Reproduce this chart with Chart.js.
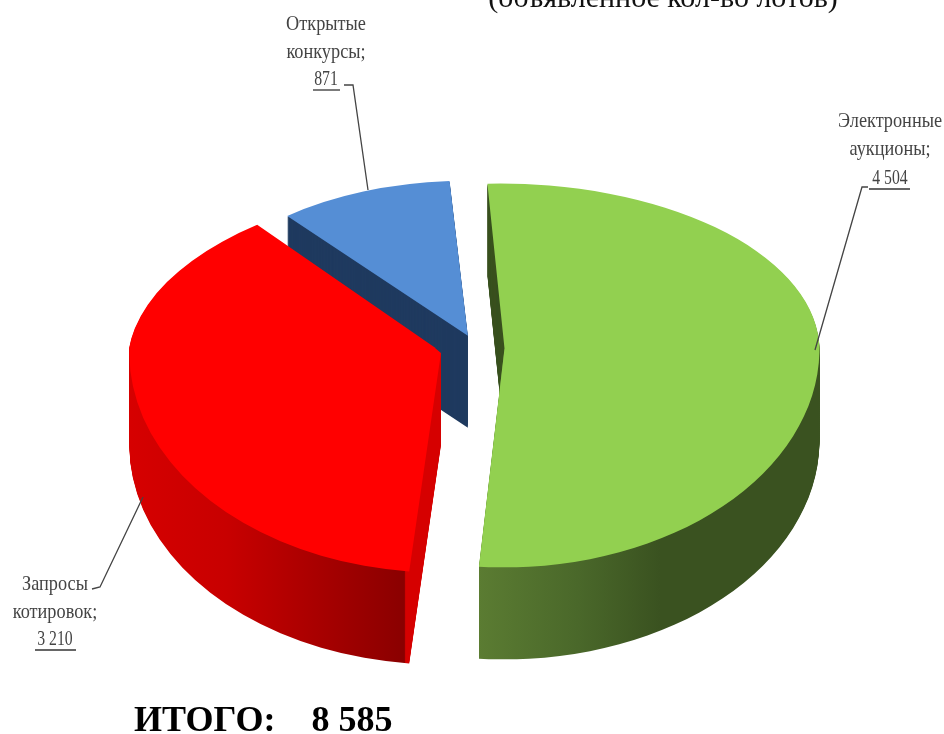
<!DOCTYPE html>
<html><head><meta charset="utf-8">
<style>html,body{margin:0;padding:0;background:#fff;overflow:hidden}
#w{width:944px;height:734px;position:relative}
canvas{filter:blur(0.7px)}</style>
<script src="https://cdn.jsdelivr.net/npm/chart.js@4/dist/chart.umd.min.js"></script>
</head><body><div id="w"><canvas id="c" width="944" height="734"></canvas></div>
<script>
const categories=['Электронные аукционы','Запросы котировок','Открытые конкурсы'];
const values=[4504,3210,871];
const valueLabels=['4 504','3 210','871'];
const labelLines=[['Электронные','аукционы;'],['Запросы','котировок;'],['Открытые','конкурсы;']];
const totalLabel='ИТОГО:    8 585';
const subtitle='(объявленное кол-во лотов)';
const topColors=['#92d050','#ff0000','#558ed5'];
const sliceScale=[1,1.065,0.96];
const sliceScaleY=[1,1.08,1];
const sliceShear=[-0.024,0.14,0];
const sliceShift=[[0,0],[0,-2],[6,3]];
const drawOrder=[2,1,0];

const CX=473,CY=348,RY_TOP=0.523,RY_BOT=0.695,DEPTH=92;

function wallFill(ctx,i,half,arc){
  const off=arc.options.offset/4*Math.cos((arc.startAngle+arc.endAngle)/2);
  const s=sliceScale[i];
  const lx=sx=>arc.x+(sx-CX)/s-off;
  if(i===2) return '#1f3a5f';
  if(i===0){
    if(half==='top') return '#3a5220';
    const g=ctx.createLinearGradient(lx(478),0,lx(660),0);
    g.addColorStop(0,'#5b7c32');g.addColorStop(.55,'#4a682a');g.addColorStop(1,'#3a5220');
    return g;
  }
  const g=ctx.createLinearGradient(lx(130),0,lx(450),0);
  const p=(405-130)/320;
  g.addColorStop(0,'#d60000');g.addColorStop(.3,'#c80000');
  g.addColorStop(p-0.002,'#8a0000');g.addColorStop(p+0.002,'#d60000');g.addColorStop(1,'#d60000');
  return g;
}
function paint(ctx,arc,i,dy,isWall,W,H){
  const saved=arc.options;
  const s=sliceScale[i];
  [['top',RY_TOP],['bot',RY_BOT]].forEach(([half,ky])=>{
    ctx.save();
    ctx.beginPath();
    if(half==='top') ctx.rect(0,0,W,CY+dy); else ctx.rect(0,CY+dy,W,H-CY-dy);
    ctx.clip();
    ctx.translate(CX+sliceShift[i][0],CY+dy+sliceShift[i][1]);
    if(half==='top') ctx.transform(1,0,-sliceShear[i],1,0,0);
    ctx.scale(s,ky*sliceScaleY[i]);
    ctx.translate(-arc.x,-arc.y);
    const fill=isWall?wallFill(ctx,i,half,{options:saved,startAngle:arc.startAngle,endAngle:arc.endAngle,x:arc.x}):topColors[i];
    arc.options=Object.assign({},saved,{backgroundColor:fill,borderWidth:0,offset:saved.offset,spacing:saved.spacing,borderAlign:saved.borderAlign,circular:saved.circular,borderRadius:saved.borderRadius,selfJoin:saved.selfJoin});
    arc.draw(ctx);
    arc.options=saved;
    ctx.restore();
  });
}
function text(ctx,str,x,y,font,color,xs,align){
  ctx.save();ctx.font=font;ctx.fillStyle=color;ctx.textAlign=align||'center';ctx.textBaseline='alphabetic';
  ctx.translate(x,y);ctx.scale(xs,1);ctx.fillText(str,0,0);ctx.restore();
}
const pie3d={
  id:'pie3d',
  beforeDatasetsDraw(chart){
    const ctx=chart.ctx,W=chart.width,H=chart.height,arcs=chart.getDatasetMeta(0).data;
    drawOrder.forEach(i=>{
      for(let dy=DEPTH;dy>0;dy--) paint(ctx,arcs[i],i,dy,true,W,H);
      paint(ctx,arcs[i],i,0,false,W,H);
    });
    return false;
  },
  afterDraw(chart){
    const ctx=chart.ctx;
    const F='"Liberation Serif"';
    const lab=[
      {c:890,y:[127,155,184],u:[869,910,189],l:[[868,187],[862,187],[815,350]]},
      {c:55,y:[590,618,645],u:[35,76,650],l:[[92,589],[100,587],[143,497]]},
      {c:326,y:[30,58,85],u:[313,340,90],l:[[344,85],[353,85],[368,190]]}
    ];
    lab.forEach((L,i)=>{
      labelLines[i].forEach((t,k)=>text(ctx,t,L.c,L.y[k],'21px '+F,'#444',0.87));
      text(ctx,valueLabels[i],L.c,L.y[2],'21px '+F,'#444',0.75);
      ctx.strokeStyle='#333';ctx.lineWidth=1.3;
      ctx.beginPath();ctx.moveTo(L.u[0],L.u[2]);ctx.lineTo(L.u[1],L.u[2]);ctx.stroke();
      ctx.strokeStyle='#444';
      ctx.beginPath();L.l.forEach((p,j)=>j?ctx.lineTo(p[0],p[1]):ctx.moveTo(p[0],p[1]));ctx.stroke();
    });
    text(ctx,subtitle,663,7,'30px '+F,'#111',1);
    text(ctx,totalLabel,134,731,'bold 36px '+F,'#000',1,'left');
  }
};
new Chart(document.getElementById('c'),{
  type:'pie',
  data:{labels:categories,datasets:[{data:values,backgroundColor:topColors,borderWidth:0,offset:126}]},
  options:{responsive:false,animation:false,rotation:-3.3,radius:283.5,
    plugins:{legend:{display:false},title:{display:false},tooltip:{enabled:false}},
    events:[]},
  plugins:[pie3d]
});
</script></body></html>
